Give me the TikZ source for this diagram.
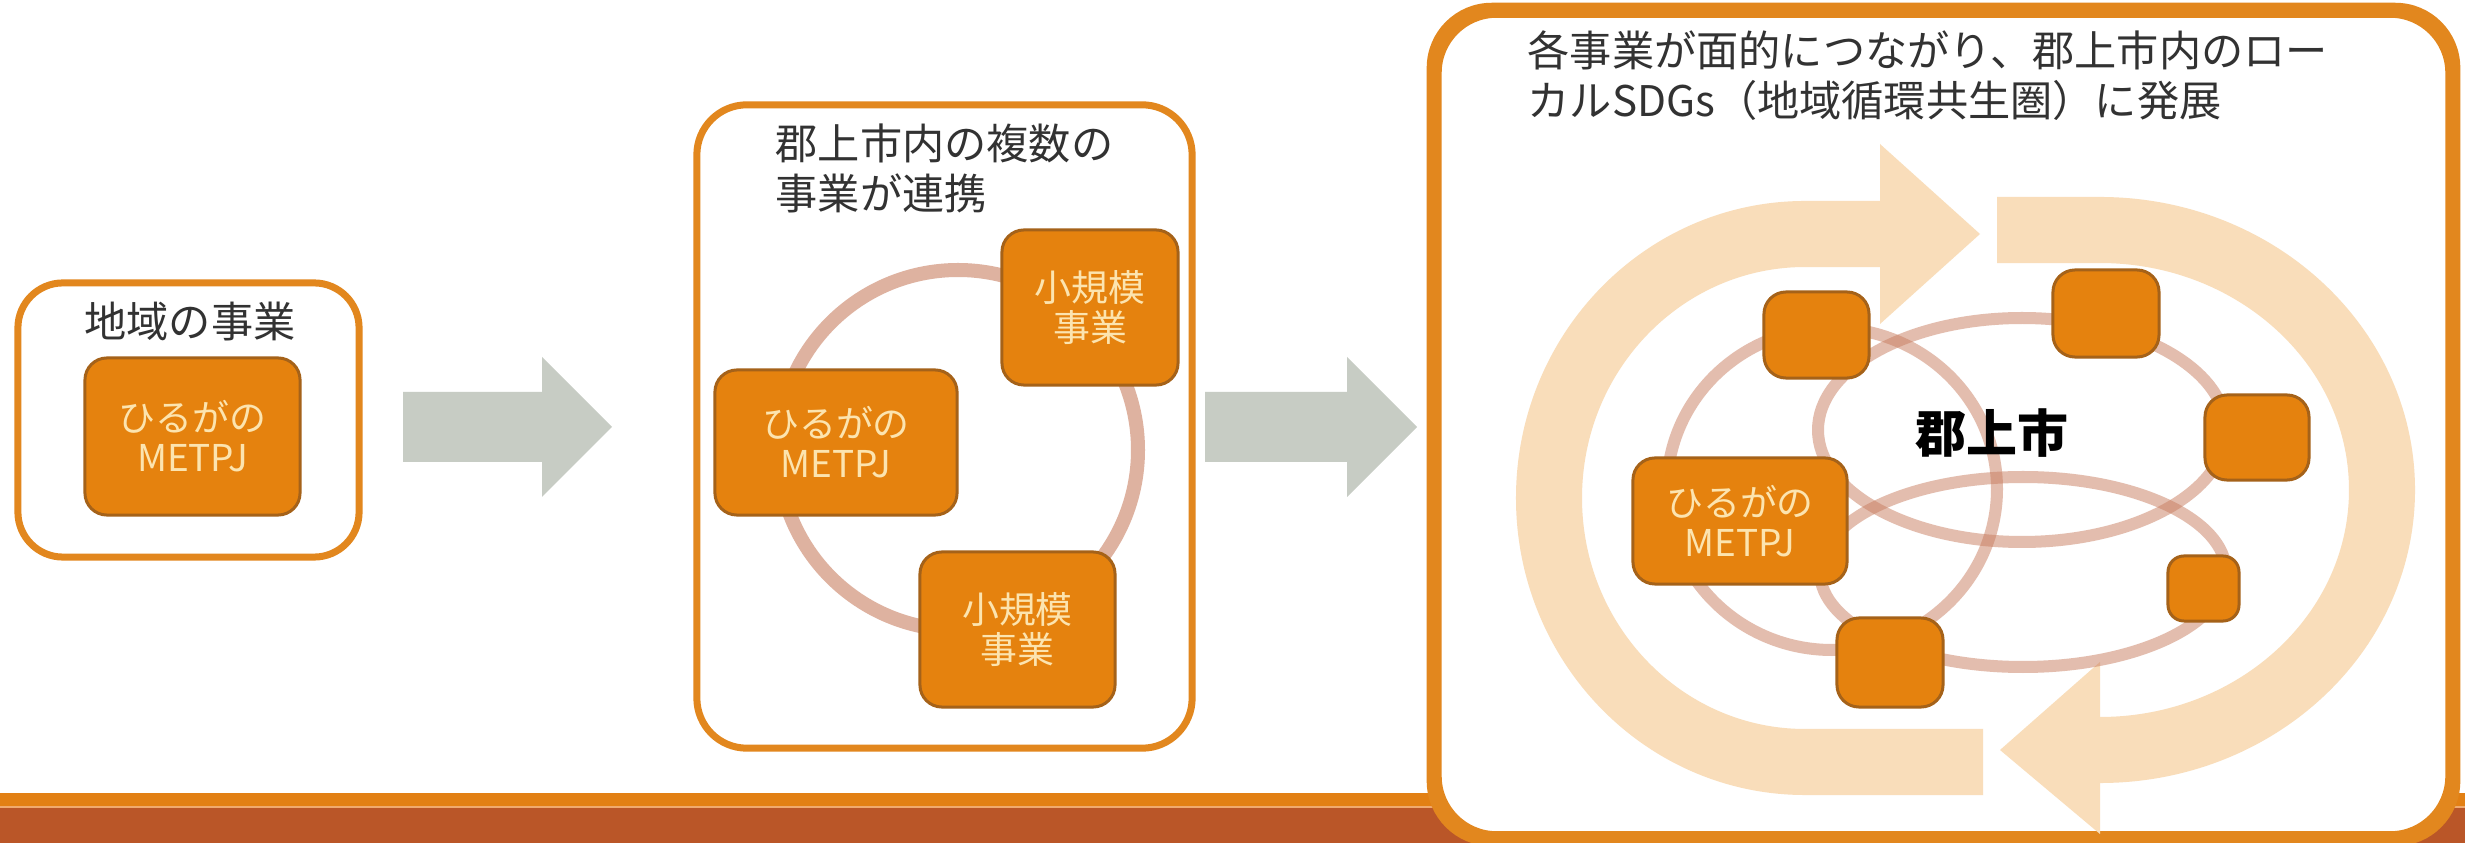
\documentclass[tikz,border=0pt]{standalone}
\usepackage{fontspec}
\setmainfont{Noto Sans CJK JP}
\definecolor{boxline}{RGB}{226,135,30}
\definecolor{orangefill}{RGB}{229,130,14}
\definecolor{orangeedge}{RGB}{165,98,25}
\definecolor{cream}{RGB}{252,228,175}
\definecolor{grayarrow}{RGB}{199,204,196}
\definecolor{peach}{RGB}{249,221,186}
\definecolor{ringc}{RGB}{222,178,160}
\definecolor{ringd}{RGB}{200,125,95}
\definecolor{barorange}{RGB}{226,128,20}
\definecolor{barlight}{RGB}{240,170,110}
\definecolor{barrust}{RGB}{186,86,40}
\definecolor{titletext}{RGB}{50,50,50}
\begin{document}
\begin{tikzpicture}[x=0.01cm,y=-0.01cm,
  frame/.style={draw=boxline, line width=0.07cm, fill=white, rounded corners=0.45cm, inner sep=0},
  item/.style={draw=orangeedge, line width=0.03cm, fill=orangefill, rounded corners=0.22cm, inner sep=0, text=cream, font=\fontsize{10.5}{11.4}\selectfont, align=center},
  ttl/.style={text=titletext, font=\fontsize{12}{14.2}\selectfont, inner sep=0, align=left},
  ring/.style={draw=ringc, line width=0.14cm},
  ringt/.style={draw=ringd, line width=0.12cm, draw opacity=0.5},
  flow/.style={draw=peach, line width=0.66cm},
  blockarrow/.style={fill=grayarrow}
]
\useasboundingbox (0,0) rectangle (2465,843);
\fill[white] (0,0) rectangle (2465,843);

% bottom bar
\fill[barorange] (0,793) rectangle (2465,806);
\fill[barlight] (0,806) rectangle (2465,808);
\fill[barrust] (0,808) rectangle (2465,843);

% frames
\node[frame, minimum width=3.41cm, minimum height=2.74cm] (f1) at (188.5,420) {};
\node[frame, minimum width=4.95cm, minimum height=6.43cm, rounded corners=0.5cm] (f2) at (944.5,426.5) {};
\node[frame, line width=0.1cm, minimum width=10.13cm, minimum height=8.23cm, rounded corners=0.6cm] (f3) at (1943.5,424.5) {};

% gray block arrows
\fill[blockarrow] (403,392) -- (542,392) -- (542,357) -- (612,427) -- (542,497) -- (542,462) -- (403,462) -- cycle;
\fill[blockarrow] (1205,392) -- (1347,392) -- (1347,357) -- (1417,427) -- (1347,497) -- (1347,462) -- (1205,462) -- cycle;

% stage 3 circular flows
\draw[flow] (1983,762) -- (1805,762) arc[start angle=90,end angle=270,x radius=256,y radius=264] -- (1880,234);
\fill[peach] (1880,144) -- (1980,234) -- (1880,324) -- cycle;
\draw[flow] (1997,230) -- (2100,230) arc[start angle=270,end angle=450,x radius=282,y radius=260];
\fill[peach] (2100,662) -- (2000,750) -- (2100,834) -- cycle;

% rings
\draw[ring] (958,450) circle[radius=180];
\draw[ringt] (1832,489) ellipse[x radius=165, y radius=161];
\draw[ringt] (2022,430) ellipse[x radius=204, y radius=112];
\draw[ringt] (2023,572) ellipse[x radius=203, y radius=95];

% frame 3 border on top
\draw[boxline, line width=0.1cm, rounded corners=0.6cm] (f3.south west) rectangle (f3.north east);

% stage 1
\node[item, minimum width=2.15cm, minimum height=1.57cm] (m1) at (192.5,436.5) {ひるがの\\METPJ};
% stage 2
\node[item, minimum width=2.42cm, minimum height=1.45cm] (m2) at (836,442.5) {ひるがの\\METPJ};
\node[item, minimum width=1.76cm, minimum height=1.55cm] (s1) at (1090,307.5) {小規模\\事業};
\node[item, minimum width=1.95cm, minimum height=1.55cm] (s2) at (1017.5,629.5) {小規模\\事業};
% stage 3
\node[item, minimum width=2.14cm, minimum height=1.26cm] (m3) at (1740,521) {ひるがの\\METPJ};
\node[item, minimum width=1.05cm, minimum height=0.86cm] (a) at (1816.5,335) {};
\node[item, minimum width=1.06cm, minimum height=0.87cm] (b) at (2106,313.5) {};
\node[item, minimum width=1.04cm, minimum height=0.85cm] (c) at (2257,437.5) {};
\node[item, minimum width=1.06cm, minimum height=0.89cm] (d) at (1890,662.5) {};
\node[item, minimum width=0.71cm, minimum height=0.65cm, rounded corners=0.16cm] (e) at (2203.5,588.5) {};

% titles
\node[ttl] (t1) at (190,322) {地域の事業};
\node[ttl, anchor=west] (t2) at (775,168) {郡上市内の複数の\\事業が連携};
\node[ttl, anchor=west] (t3) at (1527,76) {各事業が面的につながり、郡上市内のロー\\カルSDGs（地域循環共生圏）に発展};
\node[font=\bfseries\fontsize{14.5}{17}\selectfont, inner sep=0, text=black] (city) at (1992,433) {郡上市};
\end{tikzpicture}
\end{document}
